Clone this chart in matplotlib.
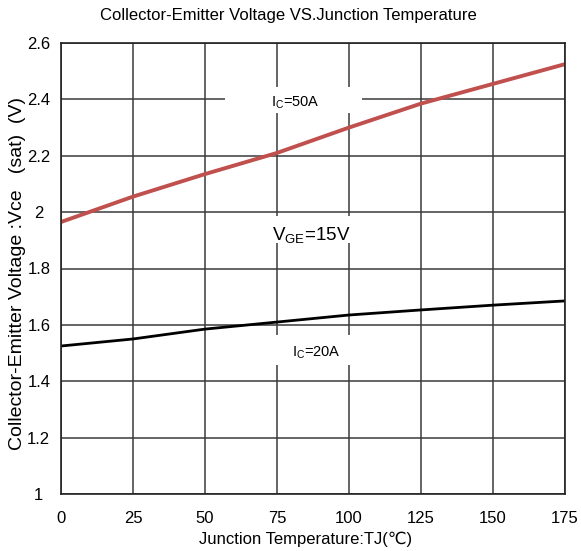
import matplotlib
matplotlib.use("Agg")
import matplotlib.pyplot as plt
from matplotlib.patches import Rectangle

plt.rcParams['font.family'] = ['Liberation Sans Narrow', 'Liberation Sans', 'DejaVu Sans']

TEMP = [0, 25, 50, 75, 100, 125, 150, 175]
VCE_50A = [1.965, 2.055, 2.135, 2.21, 2.30, 2.385, 2.455, 2.525]
VCE_20A = [1.525, 1.55, 1.585, 1.61, 1.635, 1.653, 1.67, 1.685]
X_TICKS = [0, 25, 50, 75, 100, 125, 150, 175]
Y_TICKS = [1, 1.2, 1.4, 1.6, 1.8, 2, 2.2, 2.4, 2.6]
Y_TICK_LABELS = ['1', '1.2', '1.4', '1.6', '1.8', '2', '2.2', '2.4', '2.6']

RED = '#c0504d'
GRID = '#3a3a3a'

fig = plt.figure(figsize=(5.81, 5.51), dpi=100)
ax = fig.add_axes([61 / 581, 57 / 551, 504 / 581, 451 / 551])

ax.set_xlim(0, 175)
ax.set_ylim(1, 2.6)
ax.set_xticks(X_TICKS)
ax.set_yticks(Y_TICKS)
ax.set_yticklabels(Y_TICK_LABELS)
ax.tick_params(axis='x', length=0, labelsize=12, pad=12)
ax.tick_params(axis='y', length=0, labelsize=12, pad=16)
for lbl in ax.get_yticklabels():
    lbl.set_horizontalalignment('center')
ax.grid(True, color=GRID, linewidth=1.1, zorder=0.5)
ax.set_axisbelow(True)
for s in ax.spines.values():
    s.set_linewidth(1.2)
    s.set_color('#222222')

# white masks that open gaps in the grid around the annotations
for x0, x1, y0, y1 in [(56.9, 104.5, 2.352, 2.444),
                       (72.0, 102.0, 1.890, 1.986),
                       (72.0, 102.0, 1.458, 1.564)]:
    ax.add_patch(Rectangle((x0, y0), x1 - x0, y1 - y0, facecolor='white',
                           edgecolor='none', zorder=1))

ax.plot(TEMP, VCE_50A, color=RED, linewidth=2.8, zorder=2)
ax.plot(TEMP, VCE_20A, color='black', linewidth=2.0, zorder=2)

ax.text(81.5, 2.39, r'I$_\mathregular{C}$=50A', fontsize=10.5, ha='center', va='center', zorder=3)
ax.text(87, 1.915, r'V$_\mathregular{GE}$=15V', fontsize=13.5, ha='center', va='center', zorder=3)
ax.text(88.5, 1.50, r'I$_\mathregular{C}$=20A', fontsize=10.5, ha='center', va='center', zorder=3)

ax.set_xlabel('Junction Temperature:TJ(\u2103)', fontsize=12, va='center')
ax.xaxis.set_label_coords((306 - 61) / 504, -(539 - 494) / 451)
ax.set_ylabel('Collector-Emitter Voltage :Vce   (sat)  (V)', fontsize=14, va='center')
ax.yaxis.set_label_coords(-(61 - 18) / 504, 0.49)
fig.text(0.497, 0.972, 'Collector-Emitter Voltage VS.Junction Temperature',
         fontsize=12, ha='center', va='center')

fig.savefig('out.png', dpi=100)
